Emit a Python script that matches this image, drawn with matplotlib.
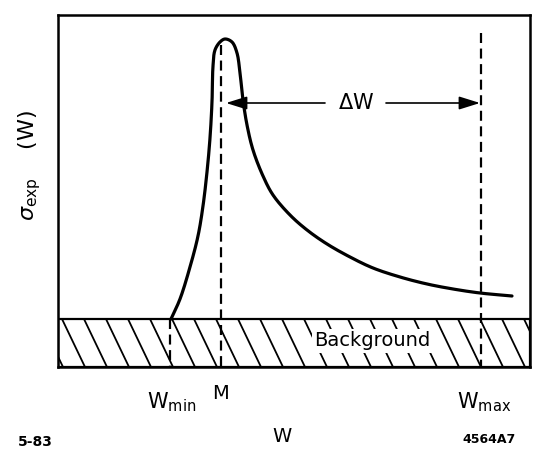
import matplotlib.pyplot as plt
from matplotlib.patches import Rectangle
import numpy as np

plt.rcParams['mathtext.fontset'] = 'dejavusans'

# curve sigma_exp(W) (pixel-like units, y grows downward)
curve_w = [171, 180, 190, 198, 203, 207, 210, 212, 213, 215, 220, 225, 232, 237,
           240, 243, 247, 253, 263, 273, 290, 307, 327, 350, 373, 400, 427, 453,
           480, 512]
curve_s = [319, 299, 267, 236, 206, 172, 138, 102, 66, 50, 42, 39, 42, 53,
           73, 100, 125, 150, 176, 195, 215, 230, 244, 257, 268, 277, 284, 289,
           293, 296]

w_min = 170
w_peak = 221
w_max = 481
background = 319

x_left, x_right = 58, 530
y_top, y_bottom = 15, 367


def smooth(xs, ys, n=16):
    # centripetal catmull-rom through the read points, only to round off the line
    p = np.column_stack([xs, ys]).astype(float)
    p = np.vstack([2 * p[0] - p[1], p, 2 * p[-1] - p[-2]])
    out = []
    for i in range(1, len(p) - 2):
        p0, p1, p2, p3 = p[i - 1], p[i], p[i + 1], p[i + 2]
        t0 = 0.0
        t1 = t0 + np.linalg.norm(p1 - p0) ** 0.5
        t2 = t1 + np.linalg.norm(p2 - p1) ** 0.5
        t3 = t2 + np.linalg.norm(p3 - p2) ** 0.5
        t = np.linspace(t1, t2, n, endpoint=False)[:, None]
        a1 = (t1 - t) / (t1 - t0) * p0 + (t - t0) / (t1 - t0) * p1
        a2 = (t2 - t) / (t2 - t1) * p1 + (t - t1) / (t2 - t1) * p2
        a3 = (t3 - t) / (t3 - t2) * p2 + (t - t2) / (t3 - t2) * p3
        b1 = (t2 - t) / (t2 - t0) * a1 + (t - t0) / (t2 - t0) * a2
        b2 = (t3 - t) / (t3 - t1) * a2 + (t - t1) / (t3 - t1) * a3
        out.append((t2 - t) / (t2 - t1) * b1 + (t - t1) / (t2 - t1) * b2)
    out.append(p[-2][None, :])
    out = np.vstack(out)
    return out[:, 0], out[:, 1]


fig = plt.figure(figsize=(5.33, 4.55), dpi=100)
ax = fig.add_axes([x_left / 533, 1 - y_bottom / 455,
                   (x_right - x_left) / 533, (y_bottom - y_top) / 455])
ax.set_xlim(x_left, x_right)
ax.set_ylim(y_bottom, y_top)
ax.set_xticks([])
ax.set_yticks([])
for s in ax.spines.values():
    s.set_linewidth(1.8)

# hatched background band
band = Rectangle((x_left, background), x_right - x_left, y_bottom - background,
                 facecolor='none', edgecolor='black', linewidth=1.6)
ax.add_patch(band)
dx = 23  # horizontal shift of a hatch line across the band
for x0 in np.arange(x_left - 40, x_right + 10, 22):
    ln, = ax.plot([x0, x0 + dx], [background, y_bottom], color='black', lw=1.3)
    ln.set_clip_path(band)

ax.text(372, 341, 'Background', fontsize=14, ha='center', va='center',
        bbox=dict(facecolor='white', edgecolor='none', pad=1.5), zorder=3)

# curve
sx, sy = smooth(curve_w, curve_s)
ax.plot(sx, sy, color='black', lw=2.3, solid_joinstyle='round',
        solid_capstyle='round', zorder=4)

# dashed markers
dash = dict(color='black', lw=1.6, linestyle=(0, (4.5, 2.5)), zorder=4)
ax.plot([w_min, w_min], [background, y_bottom], **dash)
ax.plot([w_peak, w_peak], [45, y_bottom], **dash)
ax.plot([w_max, w_max], [33, y_bottom], **dash)

# Delta W arrow
ax.annotate('', xy=(226, 103), xytext=(325, 103),
            arrowprops=dict(arrowstyle='-|>,head_length=0.8,head_width=0.25',
                            color='black', lw=1.2,
                            mutation_scale=16, shrinkA=0, shrinkB=0))
ax.annotate('', xy=(480, 103), xytext=(386, 103),
            arrowprops=dict(arrowstyle='-|>,head_length=0.8,head_width=0.25',
                            color='black', lw=1.2,
                            mutation_scale=16, shrinkA=0, shrinkB=0))
ax.text(356, 103, r'$\Delta$W', fontsize=15, ha='center', va='center')

# labels below the frame
ax.text(172, 402, r'$\mathrm{W_{min}}$', fontsize=15, ha='center', va='center', clip_on=False)
ax.text(221, 394, 'M', fontsize=14, ha='center', va='center', clip_on=False)
ax.text(484, 402, r'$\mathrm{W_{max}}$', fontsize=15, ha='center', va='center', clip_on=False)
ax.text(282, 437, 'W', fontsize=14, ha='center', va='center', clip_on=False)
ax.text(35, 442, '5-83', fontsize=10, fontweight='bold', ha='center', va='center', clip_on=False)
ax.text(489, 440, '4564A7', fontsize=9, fontweight='bold', ha='center', va='center', clip_on=False)

ax.text(30, 165, r'$\sigma_{\mathrm{exp}}$    (W)', fontsize=16, rotation=90,
        ha='center', va='center', clip_on=False)

fig.savefig('out.png', dpi=100)
